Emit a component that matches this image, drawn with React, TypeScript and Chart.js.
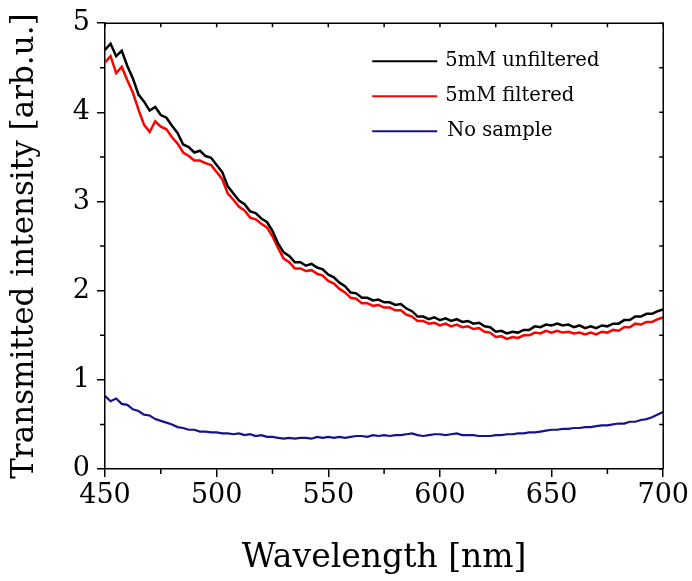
import { useEffect, useRef } from 'react'
import { Chart, registerables } from 'chart.js'

Chart.register(...registerables)

const wavelengths = [
  450, 452.5, 455, 457.5, 460, 462.5, 465, 467.5, 470, 472.5,
  475, 477.5, 480, 482.5, 485, 487.5, 490, 492.5, 495, 497.5,
  500, 502.5, 505, 507.5, 510, 512.5, 515, 517.5, 520, 522.5,
  525, 527.5, 530, 532.5, 535, 537.5, 540, 542.5, 545, 547.5,
  550, 552.5, 555, 557.5, 560, 562.5, 565, 567.5, 570, 572.5,
  575, 577.5, 580, 582.5, 585, 587.5, 590, 592.5, 595, 597.5,
  600, 602.5, 605, 607.5, 610, 612.5, 615, 617.5, 620, 622.5,
  625, 627.5, 630, 632.5, 635, 637.5, 640, 642.5, 645, 647.5,
  650, 652.5, 655, 657.5, 660, 662.5, 665, 667.5, 670, 672.5,
  675, 677.5, 680, 682.5, 685, 687.5, 690, 692.5, 695, 697.5,
  700,
]

const unfiltered = [
  4.70, 4.77, 4.63, 4.69, 4.52, 4.38, 4.20, 4.12, 4.02, 4.06,
  3.97, 3.94, 3.85, 3.77, 3.64, 3.61, 3.55, 3.57, 3.51, 3.49,
  3.41, 3.33, 3.17, 3.09, 3.01, 2.97, 2.89, 2.87, 2.81, 2.77,
  2.67, 2.53, 2.43, 2.39, 2.32, 2.32, 2.28, 2.30, 2.26, 2.24,
  2.18, 2.15, 2.09, 2.05, 1.98, 1.97, 1.92, 1.92, 1.89, 1.90,
  1.87, 1.87, 1.84, 1.85, 1.80, 1.77, 1.71, 1.71, 1.68, 1.70,
  1.67, 1.69, 1.66, 1.68, 1.65, 1.66, 1.63, 1.64, 1.60, 1.59,
  1.54, 1.55, 1.52, 1.54, 1.53, 1.56, 1.56, 1.60, 1.59, 1.62,
  1.61, 1.63, 1.61, 1.62, 1.59, 1.61, 1.58, 1.60, 1.58, 1.61,
  1.60, 1.63, 1.63, 1.67, 1.67, 1.71, 1.71, 1.74, 1.74, 1.77,
  1.79,
]

const filtered = [
  4.56, 4.63, 4.44, 4.51, 4.36, 4.22, 4.03, 3.86, 3.78, 3.90,
  3.84, 3.81, 3.72, 3.65, 3.55, 3.51, 3.46, 3.46, 3.43, 3.41,
  3.33, 3.25, 3.09, 3.02, 2.94, 2.90, 2.82, 2.80, 2.75, 2.71,
  2.61, 2.48, 2.36, 2.32, 2.25, 2.25, 2.22, 2.23, 2.19, 2.17,
  2.11, 2.08, 2.02, 1.98, 1.92, 1.91, 1.86, 1.86, 1.83, 1.84,
  1.81, 1.81, 1.78, 1.78, 1.73, 1.71, 1.66, 1.66, 1.63, 1.64,
  1.61, 1.63, 1.60, 1.62, 1.59, 1.60, 1.57, 1.58, 1.54, 1.53,
  1.48, 1.49, 1.46, 1.48, 1.47, 1.50, 1.50, 1.53, 1.52, 1.55,
  1.53, 1.55, 1.53, 1.54, 1.52, 1.53, 1.51, 1.53, 1.51, 1.54,
  1.53, 1.56, 1.55, 1.59, 1.59, 1.63, 1.62, 1.65, 1.65, 1.68,
  1.70,
]

const noSample = [
  0.82, 0.76, 0.79, 0.73, 0.72, 0.67, 0.65, 0.61, 0.60, 0.56,
  0.54, 0.52, 0.50, 0.47, 0.46, 0.44, 0.44, 0.42, 0.42, 0.41,
  0.41, 0.40, 0.40, 0.39, 0.40, 0.38, 0.39, 0.37, 0.38, 0.36,
  0.36, 0.35, 0.34, 0.35, 0.34, 0.35, 0.35, 0.34, 0.36, 0.35,
  0.36, 0.35, 0.36, 0.35, 0.36, 0.37, 0.37, 0.36, 0.38, 0.37,
  0.38, 0.37, 0.38, 0.38, 0.39, 0.40, 0.38, 0.37, 0.38, 0.39,
  0.39, 0.38, 0.39, 0.40, 0.38, 0.38, 0.38, 0.37, 0.37, 0.37,
  0.38, 0.38, 0.39, 0.39, 0.40, 0.40, 0.41, 0.41, 0.42, 0.43,
  0.44, 0.44, 0.45, 0.45, 0.46, 0.46, 0.47, 0.47, 0.48, 0.49,
  0.49, 0.50, 0.51, 0.51, 0.53, 0.53, 0.55, 0.56, 0.58, 0.61,
  0.64,
]

const xMajorTicks = [450, 500, 550, 600, 650, 700]
const xMinorTicks = [475, 525, 575, 625, 675]
const yMajorTicks = [0, 1, 2, 3, 4, 5]
const yMinorTicks = [0.5, 1.5, 2.5, 3.5, 4.5]

const FONT = "'DejaVu Serif', 'Liberation Serif', serif"

// frame on top/right, minor ticks and inward mirror ticks
const framePlugin = {
  id: 'frame',
  afterDraw(chart: Chart) {
    const { ctx, chartArea } = chart
    const xs = chart.scales.x
    const ys = chart.scales.y
    const { left, right, top, bottom } = chartArea
    ctx.save()
    ctx.strokeStyle = '#000'
    ctx.lineWidth = 1.5
    ctx.beginPath()
    ctx.moveTo(left, top)
    ctx.lineTo(right, top)
    ctx.lineTo(right, bottom)
    ctx.stroke()

    ctx.beginPath()
    xMinorTicks.forEach((v) => {
      const px = xs.getPixelForValue(v)
      ctx.moveTo(px, bottom)
      ctx.lineTo(px, bottom + 5)
    })
    yMinorTicks.forEach((v) => {
      const py = ys.getPixelForValue(v)
      ctx.moveTo(left, py)
      ctx.lineTo(left - 5, py)
    })
    ;[...xMajorTicks, ...xMinorTicks].forEach((v) => {
      const px = xs.getPixelForValue(v)
      ctx.moveTo(px, top)
      ctx.lineTo(px, top + 4)
    })
    ;[...yMajorTicks, ...yMinorTicks].forEach((v) => {
      const py = ys.getPixelForValue(v)
      ctx.moveTo(right, py)
      ctx.lineTo(right - 4, py)
    })
    ctx.stroke()
    ctx.restore()
  },
}

// legend drawn inside the plot area, top right
const insideLegend = {
  id: 'insideLegend',
  afterDatasetsDraw(chart: Chart) {
    const { ctx, chartArea } = chart
    const x0 = chartArea.right - 291
    ctx.save()
    ctx.font = `19.5px ${FONT}`
    ctx.textBaseline = 'middle'
    ctx.fillStyle = '#000'
    chart.data.datasets.forEach((ds: any, i: number) => {
      const y = chartArea.top + 38 + i * 35
      ctx.strokeStyle = ds.borderColor
      ctx.lineWidth = 2
      ctx.beginPath()
      ctx.moveTo(x0, y)
      ctx.lineTo(x0 + 65, y)
      ctx.stroke()
      ctx.fillText(ds.label, x0 + 73 + (i === 2 ? 2 : 0), y)
    })
    ctx.restore()
  },
}

export default function App() {
  const chartRef = useRef<HTMLCanvasElement>(null)
  const chartInstance = useRef<Chart | null>(null)

  useEffect(() => {
    document.body.style.margin = '0'
    if (!chartRef.current) return
    const ctx = chartRef.current.getContext('2d')
    if (!ctx) return

    Chart.defaults.font.family = FONT
    Chart.defaults.color = '#000'

    const toPoints = (vals: number[]) => wavelengths.map((w, i) => ({ x: w, y: vals[i] }))

    chartInstance.current = new Chart(ctx, {
      type: 'line',
      data: {
        datasets: [
          {
            label: '5mM unfiltered',
            data: toPoints(unfiltered),
            borderColor: '#000000',
            borderWidth: 2.5,
            pointRadius: 0,
            tension: 0,
          },
          {
            label: '5mM filtered',
            data: toPoints(filtered),
            borderColor: '#ff0000',
            borderWidth: 2.5,
            pointRadius: 0,
            tension: 0,
          },
          {
            label: 'No sample',
            data: toPoints(noSample),
            borderColor: '#14148c',
            borderWidth: 2.2,
            pointRadius: 0,
            tension: 0,
          },
        ],
      },
      options: {
        animation: false,
        responsive: true,
        maintainAspectRatio: false,
        layout: {
          padding: { top: 22, right: 28, left: 0, bottom: 0 },
        },
        scales: {
          x: {
            type: 'linear',
            min: 450,
            max: 700,
            afterFit: (scale: any) => {
              scale.height = 112
            },
            ticks: {
              stepSize: 50,
              padding: 3,
              font: { size: 27 },
              color: '#000',
              maxRotation: 0,
            },
            grid: {
              display: true,
              drawOnChartArea: false,
              drawTicks: true,
              tickLength: 8,
              color: '#000',
              lineWidth: 1.5,
            },
            border: { display: true, color: '#000', width: 1.5 },
            title: {
              display: true,
              text: 'Wavelength [nm]',
              font: { size: 33 },
              color: '#000',
              padding: { top: 0, bottom: 3 },
            },
          },
          y: {
            type: 'linear',
            min: 0,
            max: 5,
            afterFit: (scale: any) => {
              scale.width = 105
            },
            ticks: {
              stepSize: 1,
              padding: 7,
              font: { size: 27 },
              color: '#000',
            },
            grid: {
              display: true,
              drawOnChartArea: false,
              drawTicks: true,
              tickLength: 8,
              color: '#000',
              lineWidth: 1.5,
            },
            border: { display: true, color: '#000', width: 1.5 },
            title: {
              display: true,
              text: 'Transmitted intensity [arb.u.]',
              font: { size: 31 },
              color: '#000',
              padding: { top: 6, bottom: 0 },
            },
          },
        },
        plugins: {
          legend: { display: false },
          tooltip: { enabled: false },
        },
      },
      plugins: [framePlugin, insideLegend],
    })

    return () => {
      if (chartInstance.current) {
        chartInstance.current.destroy()
        chartInstance.current = null
      }
    }
  }, [])

  return (
    <div style={{ position: 'relative', width: 692, height: 581 }}>
      <canvas ref={chartRef} />
    </div>
  )
}
